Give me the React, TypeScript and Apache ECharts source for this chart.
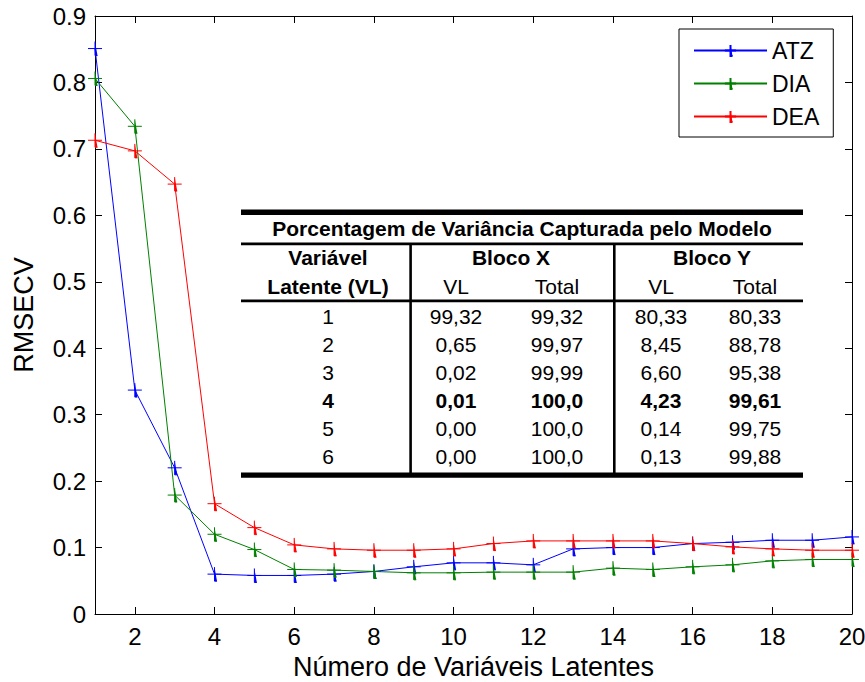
import React, { useEffect, useRef } from 'react';
import * as echarts from 'echarts';

// ---- Data ----
const latentVariables = [1, 2, 3, 4, 5, 6, 7, 8, 9, 10, 11, 12, 13, 14, 15, 16, 17, 18, 19, 20];
const atz = [0.851, 0.337, 0.22, 0.06, 0.058, 0.058, 0.06, 0.064, 0.071, 0.077, 0.077, 0.074, 0.098, 0.1, 0.1, 0.106, 0.108, 0.111, 0.111, 0.116];
const dia = [0.806, 0.734, 0.179, 0.12, 0.097, 0.067, 0.066, 0.064, 0.062, 0.062, 0.063, 0.063, 0.063, 0.069, 0.067, 0.071, 0.074, 0.08, 0.082, 0.082];
const dea = [0.713, 0.697, 0.647, 0.166, 0.13, 0.104, 0.098, 0.096, 0.096, 0.098, 0.106, 0.11, 0.11, 0.11, 0.11, 0.106, 0.101, 0.098, 0.096, 0.096];
const seriesNames = ['ATZ', 'DIA', 'DEA'];
const xTickValues = [2, 4, 6, 8, 10, 12, 14, 16, 18, 20];
const yTickLabels = ['0', '0.1', '0.2', '0.3', '0.4', '0.5', '0.6', '0.7', '0.8', '0.9'];

// ---- Table ----
const tableTitle = 'Porcentagem de Variância Capturada pelo Modelo';
const headerRow1 = ['Variável', 'Bloco X', 'Bloco Y'];
const headerRow2 = ['Latente (VL)', 'VL', 'Total', 'VL', 'Total'];
const tableLV = ['1', '2', '3', '4', '5', '6'];
const blocoXVL = ['99,32', '0,65', '0,02', '0,01', '0,00', '0,00'];
const blocoXTotal = ['99,32', '99,97', '99,99', '100,0', '100,0', '100,0'];
const blocoYVL = ['80,33', '8,45', '6,60', '4,23', '0,14', '0,13'];
const blocoYTotal = ['80,33', '88,78', '95,38', '99,61', '99,75', '99,88'];
const boldRowIndex = 3;

const FONT = '"Liberation Sans", Arial, Helvetica, sans-serif';
const COLORS = ['#0000ff', '#008000', '#ff0000'];
const PLUS = 'path://M0,7L14,7M7,0L7,14L9.5,14';

function buildTable(): any[] {
  const els: any[] = [];
  const x0 = 241;
  const x1 = 803;
  const txt = (text: string, x: number, y: number, bold = false) => ({
    type: 'text',
    style: {
      text,
      x,
      y,
      textAlign: 'center',
      textVerticalAlign: 'middle',
      font: `${bold ? 'bold ' : ''}21px ${FONT}`,
      fill: '#000',
    },
  });
  const rect = (x: number, y: number, w: number, h: number) => ({
    type: 'rect',
    shape: { x, y, width: w, height: h },
    style: { fill: '#000' },
  });
  els.push(rect(x0, 209.5, x1 - x0, 5.5));
  els.push(rect(x0, 242.5, x1 - x0, 2.8));
  els.push(rect(x0, 299.5, x1 - x0, 2.8));
  els.push(rect(x0, 472.5, x1 - x0, 5.2));
  els.push(rect(409.3, 243, 2.6, 230));
  els.push(rect(613, 243, 2.6, 230));

  els.push(txt(tableTitle, 522, 228.5, true));
  const hx1 = [328, 511, 712];
  headerRow1.forEach((t, i) => els.push(txt(t, hx1[i], 257.5, true)));
  const colX = [328, 456, 557, 661, 755];
  headerRow2.forEach((t, i) => els.push(txt(t, colX[i], 286, i === 0)));
  const cols = [tableLV, blocoXVL, blocoXTotal, blocoYVL, blocoYTotal];
  tableLV.forEach((_, r) => {
    const y = 316.5 + r * 28;
    cols.forEach((col, c) => els.push(txt(col[r], colX[c], y, r === boldRowIndex)));
  });
  return els;
}

export default function App() {
  const ref = useRef<HTMLDivElement>(null);
  useEffect(() => {
    document.body.style.margin = '0';
    const chart = echarts.init(ref.current!, null, { renderer: 'svg' });
    const seriesData = [atz, dia, dea];
    const axisLine = { show: true, onZero: false, lineStyle: { color: '#000', width: 1 } };
    const option: any = {
      animation: false,
      backgroundColor: '#fff',
      textStyle: { fontFamily: FONT },
      grid: { left: 95, right: 13, top: 16, bottom: 68, outerBoundsMode: 'none', containLabel: false },
      legend: {
        data: seriesNames,
        orient: 'vertical',
        left: 679,
        top: 29,
        padding: [10, 14, 9, 14],
        itemGap: 10,
        itemWidth: 73,
        itemHeight: 14,
        backgroundColor: '#fff',
        borderColor: '#000',
        borderWidth: 1,
        borderRadius: 0,
        textStyle: { fontSize: 23, color: '#000', fontFamily: FONT },
      },
      xAxis: [
        {
          type: 'value',
          min: 1,
          max: 20,
          position: 'bottom',
          axisLine,
          axisTick: { show: true, inside: true, length: 7, customValues: xTickValues, lineStyle: { color: '#000' } },
          axisLabel: { customValues: xTickValues, fontSize: 24, color: '#000', margin: 10, fontFamily: FONT },
          splitLine: { show: false },
          name: 'Número de Variáveis Latentes',
          nameLocation: 'middle',
          nameGap: 39,
          nameTextStyle: { fontSize: 27, color: '#000', fontFamily: FONT },
        },
        {
          type: 'value',
          min: 1,
          max: 20,
          position: 'top',
          axisLine,
          axisTick: { show: true, inside: true, length: 7, customValues: xTickValues, lineStyle: { color: '#000' } },
          axisLabel: { show: false },
          splitLine: { show: false },
        },
      ],
      yAxis: [
        {
          type: 'value',
          min: 0,
          max: 0.9,
          interval: 0.1,
          position: 'left',
          axisLine,
          axisTick: { show: true, inside: true, length: 7, lineStyle: { color: '#000' } },
          axisLabel: {
            fontSize: 24,
            color: '#000',
            margin: 9,
            fontFamily: FONT,
            formatter: (v: number) => yTickLabels[Math.round(v * 10)],
          },
          splitLine: { show: false },
          name: 'RMSECV',
          nameLocation: 'middle',
          nameGap: 58,
          nameTextStyle: { fontSize: 27, color: '#000', fontFamily: FONT },
        },
        {
          type: 'value',
          min: 0,
          max: 0.9,
          interval: 0.1,
          position: 'right',
          axisLine,
          axisTick: { show: true, inside: true, length: 7, lineStyle: { color: '#000' } },
          axisLabel: { show: false },
          splitLine: { show: false },
        },
      ],
      series: seriesNames.map((name, i) => ({
        name,
        type: 'line',
        xAxisIndex: 0,
        yAxisIndex: 0,
        data: latentVariables.map((x, k) => [x, seriesData[i][k]]),
        symbol: PLUS,
        symbolSize: 14,
        showAllSymbol: true,
        clip: false,
        color: COLORS[i],
        lineStyle: { color: COLORS[i], width: 1 },
        itemStyle: { color: COLORS[i], borderColor: COLORS[i], borderWidth: 1 },
        emphasis: { disabled: true },
      })),
      graphic: { elements: buildTable() },
    };
    chart.setOption(option);
    return () => chart.dispose();
  }, []);
  return <div ref={ref} style={{ width: 865, height: 682 }} />;
}
